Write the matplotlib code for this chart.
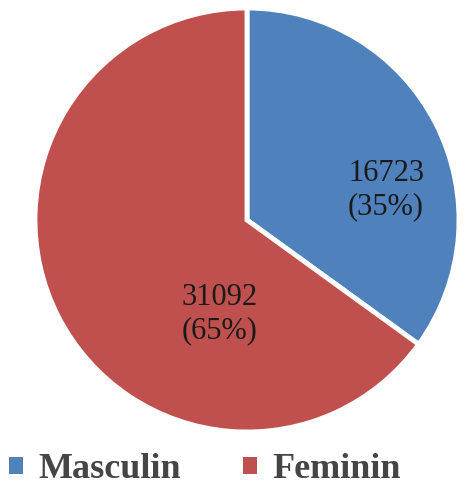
import matplotlib.pyplot as plt
from matplotlib.patches import Patch

labels = ['Masculin', 'Feminin']
counts = [16723, 31092]
colors = ['#4F81BD', '#C0504D']

plt.rcParams['font.family'] = ['Liberation Serif', 'DejaVu Serif']

W, H = 466, 492
fig = plt.figure(figsize=(W / 100, H / 100), dpi=100)
ax = fig.add_axes([0.0, 0.0, 1.0, 1.0])

total = sum(counts)
ax.pie(counts, colors=colors, startangle=90, counterclock=False,
       center=(247, H - 220), radius=212,
       wedgeprops=dict(edgecolor='white', linewidth=3.5))
ax.set_xlim(0, W)
ax.set_ylim(0, H)
ax.set_aspect('equal')
ax.axis('off')

# value labels inside the slices
label_pos = [(386, H - 190), (220, H - 314)]
for (x, y), c in zip(label_pos, counts):
    ax.text(x, y, f'{c}\n({round(c / total * 100)}%)', ha='center', va='center',
            fontsize=22, color='#1a1a1a', linespacing=1.2)

handles = [Patch(facecolor=col, edgecolor='none') for col in colors]
leg = fig.legend(handles, labels, loc='center', bbox_to_anchor=(0.44, 0.045), ncol=2,
                 frameon=False, handlelength=0.38, handleheight=0.38, handletextpad=0.45,
                 columnspacing=1.7, prop=dict(size=26, weight='bold'))
for t in leg.get_texts():
    t.set_color('#454545')

fig.savefig('out.png', dpi=100)
